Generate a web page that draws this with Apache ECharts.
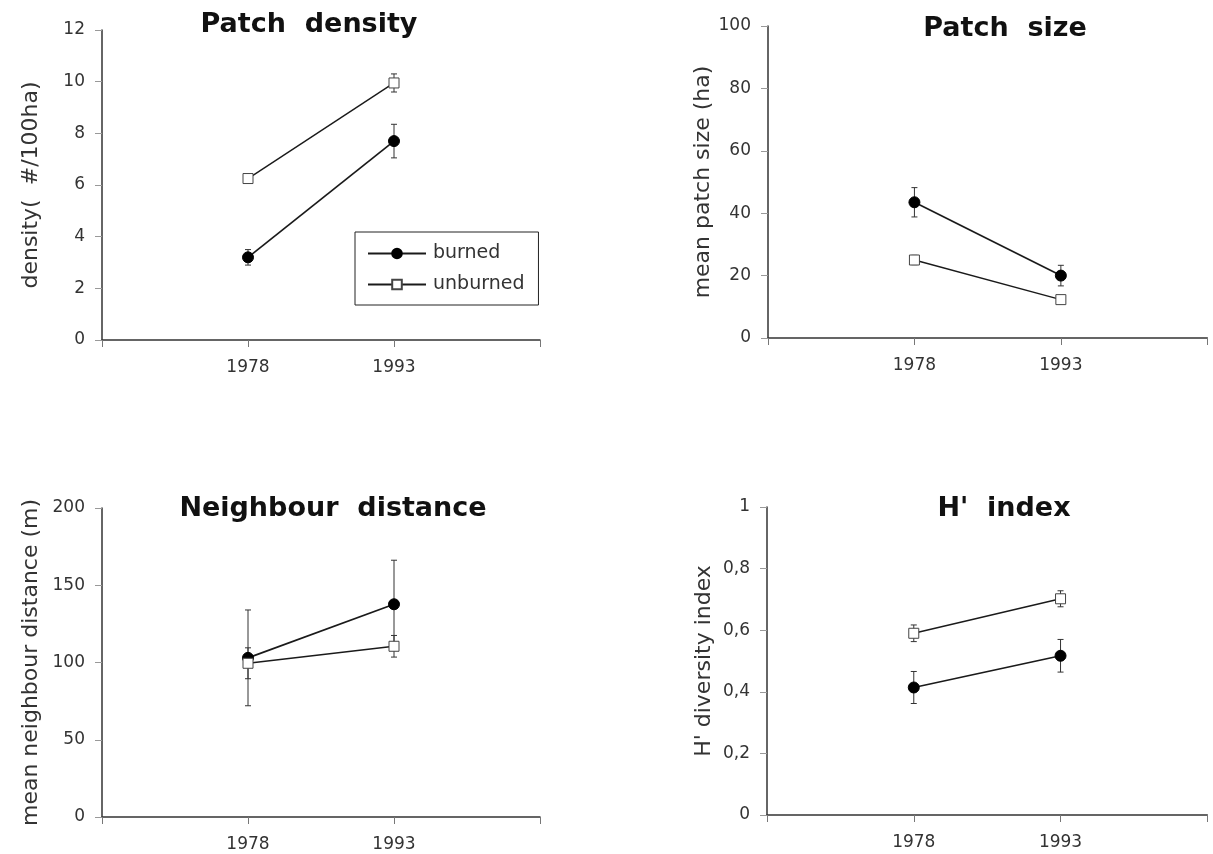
<!DOCTYPE html>
<html>
<head>
<meta charset="utf-8">
<script src="https://cdn.jsdelivr.net/npm/echarts@6/dist/echarts.min.js"></script>
<style>
html,body{margin:0;padding:0;background:#fff;}
#chart{width:1213px;height:854px;}
</style>
</head>
<body>
<div id="chart"></div>
<script>
// ---- data ----
const xCategories = ['', '1978', '1993', ' '];
const yearIndex = [1, 2];
const seriesNames = ['burned', 'unburned'];
const panelTitles = ['Patch  density', 'Patch  size', 'Neighbour  distance', "H'  index"];
const yAxisNames = ['density(  #/100ha)', 'mean patch size (ha)', 'mean neighbour distance (m)', "H' diversity index"];

const densityBurned = [3.2, 7.7];
const densityBurnedErr = [0.3, 0.65];
const densityUnburned = [6.25, 9.95];
const densityUnburnedErr = [0.15, 0.35];

const sizeBurned = [43.5, 20.0];
const sizeBurnedErr = [4.7, 3.3];
const sizeUnburned = [25.0, 12.3];
const sizeUnburnedErr = [1.5, 1.0];

const distBurned = [103, 137.7];
const distBurnedErr = [31, 28.5];
const distUnburned = [99.5, 110.5];
const distUnburnedErr = [10, 7];

const hBurned = [0.414, 0.517];
const hBurnedErr = [0.052, 0.053];
const hUnburned = [0.59, 0.702];
const hUnburnedErr = [0.027, 0.026];

const yMin = [0, 0, 0, 0];
const yMax = [12, 100, 200, 1];
const yInterval = [2, 20, 50, 0.2];

// ---- build ----
const panels = [
  {b: densityBurned, be: densityBurnedErr, u: densityUnburned, ue: densityUnburnedErr},
  {b: sizeBurned, be: sizeBurnedErr, u: sizeUnburned, ue: sizeUnburnedErr},
  {b: distBurned, be: distBurnedErr, u: distUnburned, ue: distUnburnedErr},
  {b: hBurned, be: hBurnedErr, u: hUnburned, ue: hUnburnedErr}
];

const gridPos = [
  {left: 102, top: 30, width: 438, height: 310},
  {left: 768, top: 26, width: 442, height: 312},
  {left: 102, top: 508, width: 438, height: 309},
  {left: 767, top: 507, width: 443, height: 308}
];
const titlePos = [
  {left: 304, top: 6},
  {left: 1000, top: 10},
  {left: 328, top: 490},
  {left: 999, top: 490}
];
const nameGaps = [60, 52, 60, 52];

const INK = '#1a1a1a';
const labelFont = {fontFamily: 'DejaVu Sans', fontSize: 17, color: '#333'};

const grid = [], xAxis = [], yAxis = [], series = [], title = [];

function fmtY(i) {
  return function (v) {
    if (i === 3) {
      if (v === 0) return '0';
      if (Math.abs(v - 1) < 1e-9) return '1';
      return v.toFixed(1).replace('.', ',');
    }
    return String(v);
  };
}

function errRender(params, api) {
  const x = api.value(0);
  const lo = api.coord([x, api.value(1)]);
  const hi = api.coord([x, api.value(2)]);
  const w = 3;
  const style = {stroke: '#333', lineWidth: 1};
  return {
    type: 'group',
    children: [
      {type: 'line', shape: {x1: lo[0], y1: lo[1], x2: hi[0], y2: hi[1]}, style: style},
      {type: 'line', shape: {x1: lo[0] - w, y1: lo[1], x2: lo[0] + w, y2: lo[1]}, style: style},
      {type: 'line', shape: {x1: hi[0] - w, y1: hi[1], x2: hi[0] + w, y2: hi[1]}, style: style}
    ]
  };
}

panels.forEach((p, i) => {
  grid.push(Object.assign({containLabel: false}, gridPos[i]));
  title.push({
    text: panelTitles[i],
    left: titlePos[i].left,
    top: titlePos[i].top,
    textAlign: 'center',
    textStyle: {fontFamily: 'DejaVu Sans', fontWeight: 'bold', fontSize: 27, color: '#111'}
  });
  xAxis.push({
    type: 'category',
    gridIndex: i,
    data: xCategories,
    boundaryGap: false,
    axisLine: {lineStyle: {color: '#333', width: 1.5}},
    axisTick: {show: true, inside: false, length: 7, lineStyle: {color: '#777', width: 1}},
    axisLabel: Object.assign({margin: 19, interval: 0}, labelFont),
    splitLine: {show: false}
  });
  yAxis.push({
    type: 'value',
    gridIndex: i,
    min: yMin[i],
    max: yMax[i],
    interval: yInterval[i],
    name: yAxisNames[i],
    nameLocation: 'middle',
    nameGap: nameGaps[i],
    nameTextStyle: {fontFamily: 'DejaVu Sans', fontSize: 22, color: '#333'},
    axisLine: {show: true, lineStyle: {color: '#333', width: 1.5}},
    axisTick: {show: true, inside: false, length: 7, lineStyle: {color: '#999', width: 1}},
    axisLabel: Object.assign({margin: 17, formatter: fmtY(i)}, labelFont),
    splitLine: {show: false}
  });
  // error bars
  series.push({
    type: 'custom',
    xAxisIndex: i, yAxisIndex: i,
    renderItem: errRender,
    silent: true,
    z: 1,
    data: yearIndex.map((x, k) => [x, p.b[k] - p.be[k], p.b[k] + p.be[k]])
  });
  series.push({
    type: 'custom',
    xAxisIndex: i, yAxisIndex: i,
    renderItem: errRender,
    silent: true,
    z: 1,
    data: yearIndex.map((x, k) => [x, p.u[k] - p.ue[k], p.u[k] + p.ue[k]])
  });
  series.push({
    name: seriesNames[0],
    type: 'line',
    xAxisIndex: i, yAxisIndex: i,
    data: yearIndex.map((x, k) => [x, p.b[k]]),
    symbol: 'circle',
    symbolSize: 11,
    lineStyle: {color: INK, width: 1.7},
    itemStyle: {color: '#000', borderColor: '#000', borderWidth: 1},
    z: 3,
    animation: false
  });
  series.push({
    name: seriesNames[1],
    type: 'line',
    xAxisIndex: i, yAxisIndex: i,
    data: yearIndex.map((x, k) => [x, p.u[k]]),
    symbol: 'rect',
    symbolSize: 10,
    lineStyle: {color: INK, width: 1.4},
    itemStyle: {color: '#fff', borderColor: '#444', borderWidth: 1},
    z: 4,
    animation: false
  });
});

const chart = echarts.init(document.getElementById('chart'), null, {renderer: 'canvas'});
chart.setOption({
  backgroundColor: '#fff',
  animation: false,
  title: title,
  legend: {
    data: seriesNames,
    orient: 'vertical',
    left: 355,
    top: 232,
    width: 180,
    padding: [12, 14, 11, 12],
    itemGap: 12,
    itemWidth: 58,
    itemHeight: 12,
    borderColor: '#222',
    borderWidth: 1,
    textStyle: {fontFamily: 'DejaVu Sans', fontSize: 19, color: '#333', padding: [0, 0, 0, 2]}
  },
  grid: grid,
  xAxis: xAxis,
  yAxis: yAxis,
  series: series
});
</script>
</body>
</html>
